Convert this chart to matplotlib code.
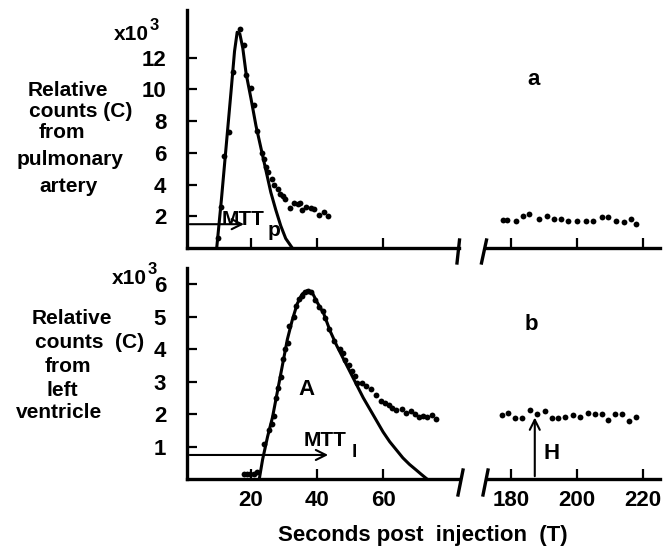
import numpy as np
import matplotlib.pyplot as plt

plt.rcParams['font.family'] = ['Liberation Sans', 'DejaVu Sans']
plt.rcParams['font.weight'] = 'bold'

# 1. 데이터 (a: pulmonary artery, b: left ventricle)
pa_t = [9.9, 10.8, 11.9, 13.2, 14.5, 16.6, 17.9, 18.6, 20.0, 20.8, 21.8, 23.4, 24.0, 24.6,
        25.2, 26.3, 27.1, 28.1, 28.9, 29.8, 30.4, 31.9, 33.1, 34.2, 34.9, 35.5, 36.7, 38.2,
        39.0, 40.7, 42.0, 43.2]
pa_c = [0.6, 2.6, 5.8, 7.3, 11.1, 13.8, 12.8, 10.9, 10.1, 9.0, 7.4, 6.0, 5.6, 5.1,
        4.8, 4.35, 4.0, 3.7, 3.4, 3.3, 3.1, 2.5, 2.85, 2.75, 2.85, 2.4, 2.6, 2.5,
        2.45, 2.05, 2.3, 2.0]
pa_late_t = [177.5, 178.7, 181.5, 183.5, 185.5, 188.6, 190.8, 193.0, 195.1, 197.4, 200.1,
             202.7, 204.9, 207.5, 209.5, 211.8, 214.2, 216.3, 217.9]
pa_late_c = [1.77, 1.77, 1.71, 2.02, 2.12, 1.81, 2.02, 1.85, 1.81, 1.69, 1.69,
             1.69, 1.69, 1.98, 1.98, 1.69, 1.65, 1.81, 1.54]
pa_fit_t = [9.6, 11.0, 12.5, 14.0, 15.0, 15.8, 16.6, 17.5, 18.5, 20.0, 21.5, 23.0, 24.5,
            26.0, 27.5, 29.0, 30.5, 32.5]
pa_fit_c = [0.0, 3.0, 6.5, 10.0, 12.4, 13.6, 13.5, 12.6, 11.0, 9.4, 7.7, 6.3, 4.9,
            3.5, 2.4, 1.4, 0.6, 0.0]

lv_t = [17.8, 18.8, 19.8, 20.8, 21.8, 24.0, 25.5, 26.4, 27.1, 27.6, 28.2, 29.0, 29.7, 30.4,
        31.2, 31.6, 32.9, 33.6, 34.5, 35.5, 36.3, 37.3, 38.3, 39.3, 40.7, 41.7, 42.5, 43.5,
        45.1, 46.8, 47.8, 48.6, 49.6, 50.6, 51.6, 52.1, 53.6, 54.8, 56.2, 57.9, 59.4, 60.5,
        61.7, 62.8, 64.0, 65.8, 67.0, 68.6, 69.8, 70.8, 72.0, 73.3, 74.8, 76.1]
lv_c = [0.15, 0.15, 0.15, 0.15, 0.23, 1.08, 1.5, 1.7, 1.95, 2.5, 2.8, 3.15, 3.7, 4.0,
        4.2, 4.7, 5.0, 5.33, 5.56, 5.64, 5.75, 5.8, 5.75, 5.5, 5.3, 5.18, 4.95, 4.63,
        4.25, 4.0, 3.89, 3.68, 3.5, 3.32, 3.17, 2.96, 2.96, 2.86, 2.76, 2.6, 2.4, 2.35,
        2.29, 2.2, 2.14, 2.16, 2.03, 2.08, 2.0, 1.91, 1.95, 1.91, 1.98, 1.85]
lv_late_t = [177.2, 179.2, 181.2, 183.2, 185.8, 188.0, 190.3, 192.3, 194.3, 196.4, 198.9,
             200.9, 203.4, 205.5, 207.5, 209.5, 211.5, 213.8, 215.8, 217.9]
lv_late_c = [1.98, 2.03, 1.88, 1.88, 2.12, 2.01, 2.08, 1.88, 1.88, 1.91, 1.98,
             1.91, 2.03, 2.01, 2.01, 1.81, 2.01, 2.0, 1.78, 1.91]
lv_fit_t = [22.5, 23.5, 25.0, 26.5, 28.0, 29.5, 31.0, 32.5, 34.0, 35.5, 37.0, 38.5, 40.0,
            42.0, 44.0, 46.0, 48.0, 50.0, 52.0, 54.0, 56.0, 58.0, 60.0, 62.0, 64.0, 66.0,
            68.0, 70.0, 71.5, 73.3]
lv_fit_c = [0.0, 0.6, 1.3, 1.9, 2.7, 3.5, 4.3, 4.9, 5.4, 5.7, 5.8, 5.75, 5.45,
            5.1, 4.55, 4.1, 3.7, 3.3, 2.9, 2.5, 2.15, 1.8, 1.45, 1.15, 0.9, 0.65,
            0.45, 0.28, 0.15, 0.0]

mtt_p = 18.7
mtt_l = 44.2
h_time = 187.2
h_value = 1.98

# 2. 레이아웃
W, H = 664, 555
fig = plt.figure(figsize=(W / 100, H / 100), dpi=100)


def box(x0, y0, x1, y1):
    return [x0 / W, 1 - y1 / H, (x1 - x0) / W, (y1 - y0) / H]


ax_a = fig.add_axes(box(187, 10, 459, 248))
ax_a2 = fig.add_axes(box(487, 10, 660, 248))
ax_b = fig.add_axes(box(187, 268, 459, 479))
ax_b2 = fig.add_axes(box(487, 268, 660, 479))

lw = 2.4
for ax in [ax_a, ax_a2, ax_b, ax_b2]:
    for s in ['top', 'right']:
        ax.spines[s].set_visible(False)
    ax.spines['bottom'].set_linewidth(lw)
    ax.spines['left'].set_linewidth(lw)
    ax.tick_params(direction='in', length=7, width=1.6, labelsize=16)
    ax.patch.set_visible(False)

for ax in [ax_a2, ax_b2]:
    ax.spines['left'].set_visible(False)
    ax.set_yticks([])
    ax.set_xlim(172.7, 225.2)
    ax.set_xticks([180, 200, 220])

for ax in [ax_a, ax_b]:
    ax.set_xlim(0.6, 83)
    ax.set_xticks([20, 40, 60])
    ax.tick_params(axis='y', pad=15)
    ax.tick_params(axis='x', pad=8)

ax_a.set_ylim(0, 15)
ax_a2.set_ylim(0, 15)
ax_b.set_ylim(0, 6.5)
ax_b2.set_ylim(0, 6.5)
ax_a.set_yticks([2, 4, 6, 8, 10, 12])
ax_b.set_yticks([1, 2, 3, 4, 5, 6])
ax_a.set_xticklabels([])
ax_a2.set_xticklabels([])
ax_b2.tick_params(axis='x', pad=8)

# 3. 점과 곡선
ms = 4.2
ax_a.plot(pa_fit_t, pa_fit_c, color='black', lw=2.2, solid_joinstyle='round')
ax_a.plot(pa_t, pa_c, 'o', color='black', ms=ms, mec='none')
ax_a2.plot(pa_late_t, pa_late_c, 'o', color='black', ms=ms, mec='none')
ax_b.plot(lv_fit_t, lv_fit_c, color='black', lw=2.2, solid_joinstyle='round')
ax_b.plot(lv_t, lv_c, 'o', color='black', ms=ms, mec='none')
ax_b2.plot(lv_late_t, lv_late_c, 'o', color='black', ms=ms, mec='none')

# 4. 화살표, 주석
arr = dict(arrowstyle='->', color='black', lw=1.5, mutation_scale=18)
ax_a.annotate('', xy=(mtt_p, 1.5), xytext=(0.6, 1.5), arrowprops=arr)
ax_b.annotate('', xy=(mtt_l, 0.74), xytext=(0.6, 0.74), arrowprops=arr)
ax_b2.annotate('', xy=(h_time, h_value), xytext=(h_time, 0), arrowprops=arr)

ax_a.text(11.0, 1.2, 'MTT', fontsize=15, fontweight='bold', va='bottom')
ax_a.text(24.9, 0.5, 'p', fontsize=15, fontweight='bold', va='bottom')
ax_b.text(35.8, 0.88, 'MTT', fontsize=15, fontweight='bold', va='bottom')
ax_b.text(50.4, 0.55, 'l', fontsize=14, fontweight='bold', va='bottom')
ax_b.text(36.7, 2.76, 'A', fontsize=16, fontweight='bold', ha='center', va='center')
ax_b2.text(192.2, 0.8, 'H', fontsize=16, fontweight='bold', ha='center', va='center')
ax_a2.text(186.9, 10.6, 'a', fontsize=16, fontweight='bold', ha='center', va='center')
ax_b2.text(186.3, 4.77, 'b', fontsize=16, fontweight='bold', ha='center', va='center')

# 축 끊김 표시
for x0, x1 in [(459.5, 457), (486.5, 481.5)]:
    fig.add_artist(plt.Line2D([x0 / W, x1 / W], [1 - 240 / H, 1 - 263 / H], color='black', lw=2.4))
for x0, x1 in [(463, 458), (488, 483)]:
    fig.add_artist(plt.Line2D([x0 / W, x1 / W], [1 - 470 / H, 1 - 495 / H], color='black', lw=2.4))


# 5. 왼쪽 라벨
def ftext(x, y, s, size=15):
    fig.text(x / W, 1 - y / H, s, fontsize=size, fontweight='bold', ha='center', va='center')


ftext(68, 90, 'Relative')
ftext(81, 112, 'counts (C)')
ftext(62, 133, 'from')
ftext(70, 160, 'pulmonary')
ftext(68, 187, 'artery')

ftext(72, 318, 'Relative')
ftext(90, 342, 'counts  (C)')
ftext(68, 367, 'from')
ftext(62, 390, 'left')
ftext(59, 413, 'ventricle')

ftext(131, 34, 'x10')
ftext(154, 26, '3', size=12)
ftext(129, 278, 'x10')
ftext(152, 270, '3', size=12)

ftext(423, 535, 'Seconds post  injection  (T)', size=16)

fig.savefig('out.png', dpi=100)
